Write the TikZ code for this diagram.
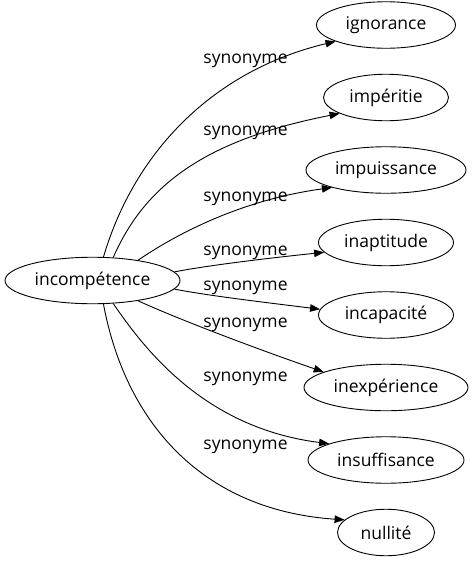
\documentclass[tikz,border=0pt]{standalone}
\usepackage{fontspec}
\setmainfont{Open Sans}
\usetikzlibrary{shapes.geometric,arrows.meta}
\tikzset{
  term/.style={draw, ellipse, inner sep=0pt, minimum height=46.5pt, font=\fontsize{17.5}{20}\selectfont, line width=0.9pt},
  lbl/.style={anchor=base, inner sep=0pt, font=\fontsize{17.5}{20}\selectfont},
  edge/.style={line width=0.9pt, -{Triangle[length=10pt,width=7.5pt]}}
}
\begin{document}
\begin{tikzpicture}[x=1pt,y=-1pt]
\useasboundingbox (0,0) rectangle (472,563);
\node[term, minimum width=175pt] (main) at (92.5,280.5) {incompétence};
\node[term, minimum width=139pt] (n1) at (386,25) {ignorance};
\node[term, minimum width=125pt] (n2) at (386,97.5) {impéritie};
\node[term, minimum width=160pt] (n3) at (386,170) {impuissance};
\node[term, minimum width=135pt] (n4) at (386,242.5) {inaptitude};
\node[term, minimum width=135pt] (n5) at (386,315) {incapacité};
\node[term, minimum width=164pt] (n6) at (386,387.5) {inexpérience};
\node[term, minimum width=156pt] (n7) at (386,460) {insuffisance};
\node[term, minimum width=97pt] (n8) at (386,532.5) {nullité};

\draw[edge] (main.65.9) .. controls (135,150) and (215,70) .. (n1.198.8);
\draw[edge] (main.48.9) .. controls (145,185) and (205,140) .. (n2.199.2);
\draw[edge] (main.24.4) .. controls (175,235) and (240,200) .. (n3.198.4);
\draw[edge] (main.6.5) .. controls (210,265) and (270,258) .. (n4.189.3);
\draw[edge] (main.-6.5) .. controls (210,296) and (270,303) .. (n5.175);
\draw[edge] (main.-24.4) .. controls (180,320) and (260,350) .. (n6.166.6);
\draw[edge] (main.-48.9) .. controls (145,350) and (205,428) .. (n7.164.6);
\draw[edge] (main.-65.9) .. controls (125,420) and (200,510) .. (n8.163);

\node[lbl] (l1) at (245.5,63.3) {synonyme};
\node[lbl] (l2) at (245.5,135.5) {synonyme};
\node[lbl] (l3) at (245.5,201.7) {synonyme};
\node[lbl] (l4) at (245.5,255) {synonyme};
\node[lbl] (l5) at (245.5,290.7) {synonyme};
\node[lbl] (l6) at (245.5,327.5) {synonyme};
\node[lbl] (l7) at (245.5,381) {synonyme};
\node[lbl] (l8) at (245.5,449) {synonyme};
\end{tikzpicture}
\end{document}
